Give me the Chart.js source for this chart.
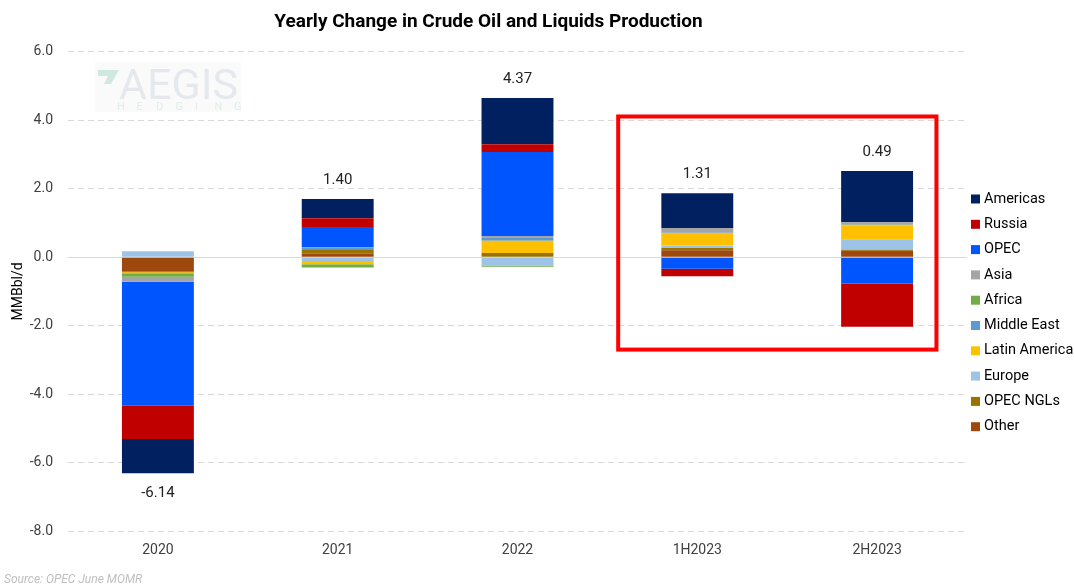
<!DOCTYPE html>
<html>
<head>
<meta charset="utf-8">
<script src="https://cdn.jsdelivr.net/npm/chart.js@4.4.0/dist/chart.umd.min.js"></script>
<style>
  html, body { margin: 0; padding: 0; background: #fff; }
  #wrap { width: 1074px; height: 587px; position: relative; }
</style>
</head>
<body>
<div id="wrap"><canvas id="c" width="1074" height="587"></canvas></div>
<script>
// Periods on the x axis
const categories = ['2020', '2021', '2022', '1H2023', '2H2023'];

// Yearly change by region, MMBbl/d
const americas     = [-1.00, 0.56, 1.35, 1.02, 1.50];
const russia       = [-0.97, 0.26, 0.23, -0.22, -1.26];
const opec         = [-3.62, 0.58, 2.45, -0.34, -0.77];
const asia         = [-0.15, 0.03, 0.06, 0.14, 0.07];
const africa       = [-0.10, -0.09, -0.04, 0.00, 0.02];
const middleEast   = [0.00, 0.04, 0.08, 0.02, 0.00];
const latinAmerica = [-0.03, -0.07, 0.36, 0.35, 0.42];
const europe       = [0.17, -0.14, -0.24, 0.07, 0.29];
const opecNgls     = [-0.03, 0.13, 0.12, 0.07, 0.03];
const other        = [-0.41, 0.10, 0.00, 0.20, 0.19];

// Y axis ticks
const yTicks = [-8, -6, -4, -2, 0, 2, 4, 6];

// Stacked from the zero line outward: Other first, Americas last
const series = [
  { label: 'Other',         data: other,        color: '#9E480E' },
  { label: 'OPEC NGLs',     data: opecNgls,     color: '#997300' },
  { label: 'Europe',        data: europe,       color: '#9DC3E6' },
  { label: 'Latin America', data: latinAmerica, color: '#FFC000' },
  { label: 'Middle East',   data: middleEast,   color: '#5B9BD5' },
  { label: 'Africa',        data: africa,       color: '#70AD47' },
  { label: 'Asia',          data: asia,         color: '#A5A5A5' },
  { label: 'OPEC',          data: opec,         color: '#0055FF' },
  { label: 'Russia',        data: russia,       color: '#C00000' },
  { label: 'Americas',      data: americas,     color: '#002060' }
];

const FONT = 'Roboto, "Liberation Sans", Arial, sans-serif';

// Net total labels above / below each stack
const totalsPlugin = {
  id: 'totals',
  afterDatasetsDraw(chart) {
    const { ctx, scales: { x, y } } = chart;
    ctx.save();
    ctx.font = '15px ' + FONT;
    ctx.fillStyle = '#222';
    ctx.textAlign = 'center';
    ctx.textBaseline = 'middle';
    categories.forEach((cat, i) => {
      let pos = 0, neg = 0;
      series.forEach(s => { const v = s.data[i]; if (v >= 0) pos += v; else neg += v; });
      const total = pos + neg;
      const px = x.getPixelForValue(i);
      const text = (Math.round(total * 100) / 100).toFixed(2);
      if (total >= 0) {
        ctx.fillText(text, px, y.getPixelForValue(pos) - 19);
      } else {
        ctx.fillText(text, px, y.getPixelForValue(neg) + 20);
      }
    });
    ctx.restore();
  }
};

// Red outline around the 2023 halves
const highlightPlugin = {
  id: 'highlight',
  afterDraw(chart) {
    const { ctx, scales: { x, y } } = chart;
    const l = x.getPixelForValue(2.56), r = x.getPixelForValue(4.33);
    const t = y.getPixelForValue(4.11), b = y.getPixelForValue(-2.70);
    ctx.save();
    ctx.strokeStyle = '#FF0000';
    ctx.lineWidth = 4;
    ctx.strokeRect(l, t, r - l, b - t);
    ctx.restore();
  }
};

// Region key on the right, Americas at the top
const keyPlugin = {
  id: 'key',
  afterDraw(chart) {
    const { ctx, chartArea } = chart;
    ctx.save();
    ctx.font = '14.5px ' + FONT;
    ctx.textAlign = 'left';
    ctx.textBaseline = 'middle';
    const x0 = chartArea.right + 4;
    const y0 = 199, step = 25.3;
    series.slice().reverse().forEach((s, k) => {
      const yy = y0 + k * step;
      ctx.fillStyle = s.color;
      ctx.fillRect(x0, yy - 4.5, 9, 9);
      ctx.fillStyle = '#000';
      ctx.fillText(s.label, x0 + 13, yy);
    });
    ctx.restore();
  }
};

// Faint company watermark and source note
const brandingPlugin = {
  id: 'branding',
  beforeDatasetsDraw(chart) {
    const { ctx } = chart;
    ctx.save();
    ctx.fillStyle = 'rgba(240,242,244,0.35)';
    ctx.fillRect(95, 62, 146, 50);
    // angled mark
    ctx.fillStyle = '#cfe9e1';
    ctx.beginPath();
    ctx.moveTo(98, 70); ctx.lineTo(119, 70); ctx.lineTo(111, 84); ctx.lineTo(104, 84); ctx.lineTo(108, 76); ctx.lineTo(98, 76);
    ctx.closePath(); ctx.fill();
    ctx.fillStyle = '#e5e9ee';
    ctx.font = '43px ' + FONT;
    ctx.textBaseline = 'alphabetic';
    ctx.textAlign = 'left';
    ctx.fillText('AEGIS', 119, 99);
    ctx.fillStyle = '#dcefe8';
    ctx.font = '11px ' + FONT;
    'HEDGING'.split('').forEach((ch, k) => ctx.fillText(ch, 117 + k * 19.5, 110));
    ctx.restore();
  },
  afterDraw(chart) {
    const { ctx } = chart;
    ctx.save();
    ctx.font = 'italic 12px ' + FONT;
    ctx.fillStyle = '#bfbfbf';
    ctx.textAlign = 'left';
    ctx.textBaseline = 'alphabetic';
    ctx.fillText('Source: OPEC June MOMR', 4, 583);
    ctx.restore();
  }
};

new Chart(document.getElementById('c'), {
  type: 'bar',
  data: {
    labels: categories,
    datasets: series.map(s => ({
      label: s.label,
      data: s.data,
      backgroundColor: s.color,
      borderWidth: 0,
      barPercentage: 0.4,
      categoryPercentage: 1.0
    }))
  },
  options: {
    responsive: false,
    animation: false,
    layout: { padding: { left: 10, right: 107, top: 4, bottom: 18 } },
    plugins: {
      title: {
        display: true,
        text: 'Yearly Change in Crude Oil and Liquids Production',
        font: { family: FONT, size: 19, weight: 'bold' },
        color: '#000',
        padding: { top: 7, bottom: 18 }
      },
      legend: { display: false },
      tooltip: { enabled: false }
    },
    scales: {
      x: {
        stacked: true,
        grid: { display: false, drawTicks: false },
        border: { display: false },
        ticks: { color: '#404040', font: { family: FONT, size: 14 }, padding: 10.6 }
      },
      y: {
        stacked: true,
        min: -8,
        max: 6,
        afterBuildTicks(scale) { scale.ticks = yTicks.map(v => ({ value: v })); },
        afterFit(scale) { scale.width = 58; },
        ticks: {
          color: '#404040',
          font: { family: FONT, size: 14 },
          padding: 15,
          callback: v => Number(v).toFixed(1)
        },
        grid: {
          color: '#d9d9d9',
          drawTicks: false,
          lineWidth: 1
        },
        border: {
          display: false,
          dash: ctx => (ctx.tick && ctx.tick.value === 0) ? [] : [6, 4]
        },
        title: {
          display: true,
          text: 'MMBbl/d',
          color: '#000',
          font: { family: FONT, size: 14 },
          padding: 0
        }
      }
    }
  },
  plugins: [brandingPlugin, totalsPlugin, highlightPlugin, keyPlugin]
});
</script>
</body>
</html>
